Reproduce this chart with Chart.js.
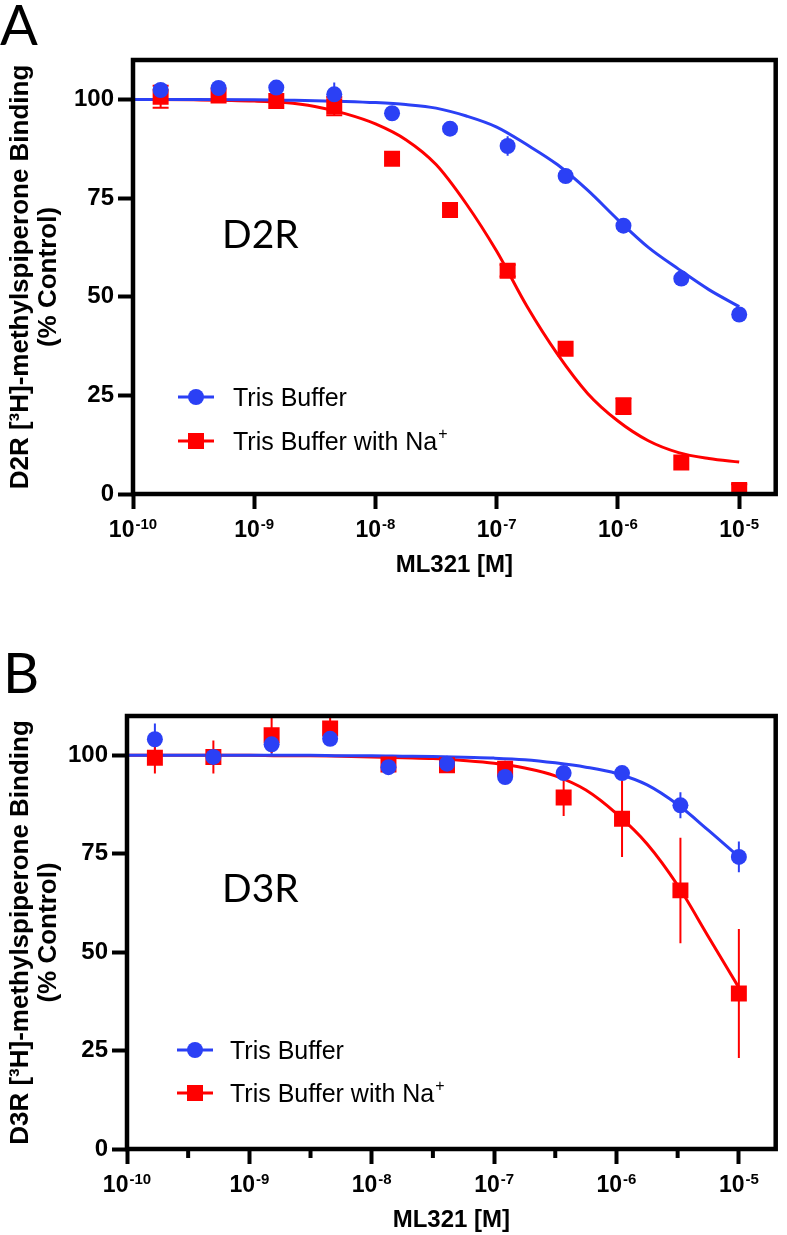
<!DOCTYPE html>
<html>
<head>
<meta charset="utf-8">
<script src="https://cdn.jsdelivr.net/npm/chart.js@4.4.1/dist/chart.umd.min.js"></script>
<style>
    body { margin: 0; background: #fff; width: 787px; height: 1235px; overflow: hidden; position: relative; }
    canvas { position: absolute; left: 0; }
    #chartA { top: 0; }
    #chartB { top: 640px; }
</style>
</head>
<body>
<canvas id="chartA" width="787" height="600"></canvas>
<canvas id="chartB" width="787" height="595"></canvas>
<script>
// ML321 concentrations (M)
const concentrations = [1.69e-10, 5.08e-10, 1.52e-9, 4.57e-9, 1.37e-8, 4.12e-8, 1.23e-7, 3.70e-7, 1.11e-6, 3.33e-6, 1.0e-5];

// axis ticks
const xTickValues = [1e-10, 1e-9, 1e-8, 1e-7, 1e-6, 1e-5];
const xTickBase = '10';
const xTickExponents = ['-10', '-9', '-8', '-7', '-6', '-5'];
const xMinorTicksB = [3.16e-10, 3.16e-9, 3.16e-8, 3.16e-7, 3.16e-6];
const yTickValues = [0, 25, 50, 75, 100];

// Panel A - D2R
const d2rTris = [102.4, 102.9, 103.0, 101.3, 96.5, 92.6, 88.2, 80.6, 68.0, 54.6, 45.5];
const d2rTrisErr = [0, 0, 0, 3.0, 0, 0, 2.5, 0, 0, 0, 0];
const d2rNa = [100.7, 101.0, 99.6, 98.3, 85.0, 72.0, 56.6, 36.8, 22.3, 8.0, 1.0];
const d2rNaErr = [2.8, 0, 0, 2.3, 0, 0, 1.5, 0, 2.0, 0, 1.5];

// Panel B - D3R
const d3rTris = [104.1, 99.6, 102.8, 104.2, 97.0, 97.9, 94.5, 95.5, 95.5, 87.3, 74.2];
const d3rTrisErr = [4.0, 1.0, 3.0, 1.0, 1.0, 1.0, 1.0, 1.0, 1.0, 3.3, 3.9];
const d3rNa = [99.4, 99.6, 105.1, 106.8, 97.7, 97.5, 96.6, 89.3, 83.9, 65.7, 39.5];
const d3rNaErr = [4.0, 4.2, 4.5, 2.8, 1.0, 2.0, 2.0, 4.7, 9.7, 13.4, 16.4];

// fitted curves, read at quarter decades
const curveX = [1e-10, 3.16e-10, 1e-9, 1.78e-9, 3.16e-9, 5.62e-9, 1e-8, 1.78e-8, 3.16e-8, 5.62e-8,
                1e-7, 1.78e-7, 3.16e-7, 5.62e-7, 1e-6, 1.78e-6, 3.16e-6, 5.62e-6, 1e-5];
const d2rTrisFit = [100, 100, 99.9, 99.8, 99.7, 99.5, 99.2, 98.7, 97.8, 95.8, 93.0, 88.5, 83.5, 77.0, 69.5, 62.5, 57.0, 51.8, 47.5];
const d2rNaFit = [100, 99.9, 99.6, 99.2, 98.2, 96.4, 93.8, 89.8, 83.5, 73.5, 61.5, 47.5, 35.5, 25.5, 18.5, 13.5, 10.5, 9.0, 8.1];
const d3rTrisFit = [100, 100, 100, 100, 100, 99.9, 99.9, 99.8, 99.7, 99.5, 99.3, 98.9, 98.1, 97.0, 95.4, 92.5, 87.5, 81.0, 74.2];
const d3rNaFit = [100, 100, 100, 99.9, 99.9, 99.8, 99.6, 99.4, 99.2, 98.7, 98.0, 96.8, 94.8, 91.2, 85.2, 77.5, 67.0, 54.0, 41.0];

const AZUL = '#2b40f5';
const ROJO = '#ff0000';
const ARIAL = '"Liberation Sans", Arial, sans-serif';

function puntos(xs, ys) {
    return xs.map((v, i) => ({ x: v, y: ys[i] }));
}

// error bars drawn through the chart scales
const barrasError = {
    id: 'barrasError',
    beforeDatasetsDraw(chart) {
        const { ctx, chartArea, scales } = chart;
        ctx.save();
        ctx.beginPath();
        ctx.rect(chartArea.left, chartArea.top, chartArea.width, chartArea.height);
        ctx.clip();
        chart.data.datasets.forEach(ds => {
            if (!ds.errores) return;
            ctx.strokeStyle = ds.backgroundColor;
            ctx.lineWidth = 2;
            ds.data.forEach((p, i) => {
                const e = ds.errores[i];
                if (!e) return;
                const px = scales.x.getPixelForValue(p.x);
                const arriba = scales.y.getPixelForValue(p.y + e);
                const abajo = scales.y.getPixelForValue(p.y - e);
                ctx.beginPath();
                ctx.moveTo(px, arriba);
                ctx.lineTo(px, abajo);
                if (ds.capa) {
                    ctx.moveTo(px - ds.capa / 2, arriba);
                    ctx.lineTo(px + ds.capa / 2, arriba);
                    ctx.moveTo(px - ds.capa / 2, abajo);
                    ctx.lineTo(px + ds.capa / 2, abajo);
                }
                ctx.stroke();
            });
        });
        ctx.restore();
    }
};

// frame, minor ticks, x labels with superscripts, legend and labels
const extras = {
    id: 'extras',
    afterDatasetsDraw(chart, args, opts) {
        const { ctx, chartArea, scales } = chart;
        ctx.save();
        ctx.strokeStyle = '#000';
        ctx.lineWidth = 4.5;
        ctx.strokeRect(chartArea.left, chartArea.top, chartArea.width, chartArea.height);

        (opts.menores || []).forEach(v => {
            const px = scales.x.getPixelForValue(v);
            ctx.lineWidth = 4;
            ctx.beginPath();
            ctx.moveTo(px, chartArea.bottom);
            ctx.lineTo(px, chartArea.bottom + 9);
            ctx.stroke();
        });

        // x tick labels: 10 with exponent
        ctx.fillStyle = '#000';
        ctx.textBaseline = 'alphabetic';
        ctx.textAlign = 'left';
        xTickValues.forEach((v, i) => {
            const px = scales.x.getPixelForValue(v);
            ctx.font = 'bold 23px ' + ARIAL;
            const wBase = ctx.measureText(xTickBase).width;
            ctx.font = 'bold 15px ' + ARIAL;
            const wExp = ctx.measureText(xTickExponents[i]).width;
            const x0 = px - (wBase + wExp + 1) / 2;
            const base = chartArea.bottom + 43;
            ctx.font = 'bold 23px ' + ARIAL;
            ctx.fillText(xTickBase, x0, base);
            ctx.font = 'bold 15px ' + ARIAL;
            ctx.fillText(xTickExponents[i], x0 + wBase + 1, base - 8);
        });

        // legend
        opts.leyenda.forEach(item => {
            ctx.strokeStyle = item.color;
            ctx.fillStyle = item.color;
            ctx.lineWidth = 3;
            ctx.beginPath();
            ctx.moveTo(opts.leyendaX0, item.y);
            ctx.lineTo(opts.leyendaX1, item.y);
            ctx.stroke();
            const cx = (opts.leyendaX0 + opts.leyendaX1) / 2;
            ctx.beginPath();
            if (item.forma === 'circle') {
                ctx.arc(cx, item.y, 8, 0, Math.PI * 2);
            } else {
                ctx.rect(cx - 8, item.y - 8, 16, 16);
            }
            ctx.fill();
            ctx.fillStyle = '#000';
            ctx.font = '25px ' + ARIAL;
            ctx.fillText(item.texto, opts.textoX, item.y + 9);
            if (item.sup) {
                const w = ctx.measureText(item.texto).width;
                ctx.font = '16px ' + ARIAL;
                ctx.fillText(item.sup, opts.textoX + w + 1, item.y - 2);
            }
        });

        // receptor label and panel letter
        ctx.fillStyle = '#000';
        ctx.font = '39px Lato, "Open Sans", sans-serif';
        ctx.fillText(opts.receptor.texto, opts.receptor.x, opts.receptor.y);
        ctx.font = '56px Lato, "Open Sans", sans-serif';
        ctx.fillText(opts.panel.texto, opts.panel.x, opts.panel.y);
        ctx.restore();
    }
};

function crearGrafica(id, cfg) {
    const ctx = document.getElementById(id).getContext('2d');
    return new Chart(ctx, {
        type: 'scatter',
        data: {
            datasets: [
                {
                    label: 'Tris Buffer',
                    data: puntos(concentrations, cfg.tris),
                    errores: cfg.trisErr,
                    capa: 0,
                    backgroundColor: AZUL,
                    borderWidth: 0,
                    pointStyle: 'circle',
                    pointRadius: 8,
                },
                {
                    label: 'Tris Buffer with Na+',
                    data: puntos(concentrations, cfg.na),
                    errores: cfg.naErr,
                    capa: cfg.capa,
                    backgroundColor: ROJO,
                    borderWidth: 0,
                    pointStyle: 'rect',
                    pointRadius: 11.3,
                },
                {
                    data: puntos(curveX, cfg.trisFit),
                    showLine: true,
                    borderColor: AZUL,
                    borderWidth: 3,
                    pointRadius: 0,
                    cubicInterpolationMode: 'monotone',
                },
                {
                    data: puntos(curveX, cfg.naFit),
                    showLine: true,
                    borderColor: ROJO,
                    borderWidth: 3,
                    pointRadius: 0,
                    cubicInterpolationMode: 'monotone',
                },
            ],
        },
        options: {
            responsive: false,
            animation: false,
            events: [],
            layout: { padding: cfg.padding },
            plugins: {
                legend: { display: false },
                tooltip: { enabled: false },
                extras: cfg.extras,
            },
            scales: {
                x: {
                    type: 'logarithmic',
                    min: 1e-10,
                    max: 2e-5,
                    afterBuildTicks: s => { s.ticks = xTickValues.map(v => ({ value: v })); },
                    afterFit: s => { s.height = cfg.altoX; },
                    border: { display: false },
                    grid: {
                        drawOnChartArea: false,
                        drawTicks: true,
                        tickLength: 15,
                        tickWidth: 4,
                        tickColor: '#000',
                    },
                    ticks: {
                        autoSkip: false,
                        maxRotation: 0,
                        callback: () => '',
                    },
                    title: {
                        display: true,
                        text: 'ML321 [M]',
                        color: '#000',
                        font: { family: ARIAL, size: 24, weight: 'bold' },
                        padding: { top: 0, bottom: cfg.tituloX },
                    },
                },
                y: {
                    min: 0,
                    max: 110,
                    afterBuildTicks: s => { s.ticks = yTickValues.map(v => ({ value: v })); },
                    afterFit: s => { s.width = cfg.anchoY; },
                    border: { display: false },
                    grid: {
                        drawOnChartArea: false,
                        drawTicks: true,
                        tickLength: 15,
                        tickWidth: 4,
                        tickColor: '#000',
                    },
                    ticks: {
                        padding: 4,
                        color: '#000',
                        font: { family: ARIAL, size: 24, weight: 'bold' },
                    },
                    title: {
                        display: true,
                        text: [cfg.receptor + ' [³H]-methylspiperone Binding', '(% Control)'],
                        color: '#000',
                        font: { family: ARIAL, size: 26, weight: 'bold', lineHeight: 1.08 },
                        padding: { top: 7, bottom: 0 },
                    },
                },
            },
        },
        plugins: [barrasError, extras],
    });
}

crearGrafica('chartA', {
    receptor: 'D2R',
    tris: d2rTris, trisErr: d2rTrisErr, na: d2rNa, naErr: d2rNaErr,
    trisFit: d2rTrisFit, naFit: d2rNaFit,
    capa: 16,
    padding: { top: 60, right: 6, left: 0, bottom: 0 },
    anchoY: 133, altoX: 106, tituloX: 20,
    extras: {
        menores: [],
        leyendaX0: 178, leyendaX1: 214, textoX: 233,
        leyenda: [
            { texto: 'Tris Buffer', color: AZUL, forma: 'circle', y: 397 },
            { texto: 'Tris Buffer with Na', sup: '+', color: ROJO, forma: 'rect', y: 441 },
        ],
        receptor: { texto: 'D2R', x: 222, y: 248 },
        panel: { texto: 'A', x: 0, y: 45 },
    },
});

crearGrafica('chartB', {
    receptor: 'D3R',
    tris: d3rTris, trisErr: d3rTrisErr, na: d3rNa, naErr: d3rNaErr,
    trisFit: d3rTrisFit, naFit: d3rNaFit,
    capa: 0,
    padding: { top: 76, right: 11, left: 0, bottom: 0 },
    anchoY: 127, altoX: 86, tituloX: 0,
    extras: {
        menores: xMinorTicksB,
        leyendaX0: 177, leyendaX1: 213, textoX: 230,
        leyenda: [
            { texto: 'Tris Buffer', color: AZUL, forma: 'circle', y: 410 },
            { texto: 'Tris Buffer with Na', sup: '+', color: ROJO, forma: 'rect', y: 453 },
        ],
        receptor: { texto: 'D3R', x: 222, y: 262 },
        panel: { texto: 'B', x: 3, y: 53 },
    },
});
</script>
</body>
</html>
